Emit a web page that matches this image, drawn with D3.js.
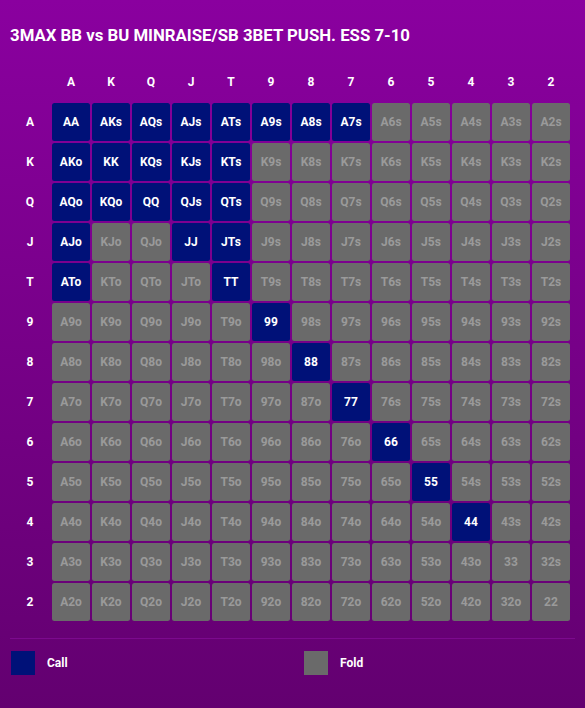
<!DOCTYPE html>
<html><head><meta charset="utf-8">
<script src="https://cdn.jsdelivr.net/npm/d3@7"></script>
<style>
html,body{margin:0;padding:0;}
body{width:585px;height:708px;overflow:hidden;font-family:Roboto,"Noto Sans",sans-serif;}
</style></head>
<body>
<svg id="c" width="585" height="708"></svg>
<script>
const title = "3MAX BB vs BU MINRAISE/SB 3BET PUSH. ESS 7-10";
const ranks = ["A","K","Q","J","T","9","8","7","6","5","4","3","2"];
const callHands = ["AA","AKs","AQs","AJs","ATs","A9s","A8s","A7s",
  "AKo","KK","KQs","KJs","KTs",
  "AQo","KQo","QQ","QJs","QTs",
  "AJo","JJ","JTs",
  "ATo","TT",
  "99","88","77","66","55","44"];
const legendLabels = ["Call","Fold"];
const legendColors = ["#001178","#6a6a6a"];

const svg = d3.select("#c");
const defs = svg.append("defs");
const g = defs.append("linearGradient").attr("id","bg").attr("x1",0).attr("y1",0).attr("x2",0).attr("y2",1);
g.append("stop").attr("offset","0%").attr("stop-color","#8a009f");
g.append("stop").attr("offset","100%").attr("stop-color","#630070");
svg.append("rect").attr("width",585).attr("height",708).attr("fill","url(#bg)");

svg.append("text").attr("x",10).attr("y",41).text(title)
  .attr("fill","#fff").attr("font-weight","bold").attr("font-size","16.8px");

const x = d3.scaleBand().domain(ranks).range([51,571]).paddingInner(0.05).paddingOuter(0.025);
const y = d3.scaleBand().domain(ranks).range([102,622]).paddingInner(0.05).paddingOuter(0.025);

const cells = [];
ranks.forEach((r,i)=>ranks.forEach((c,j)=>{
  let h;
  if(i===j) h=r+c; else if(j>i) h=r+c+"s"; else h=c+r+"o";
  cells.push({row:r,col:c,hand:h,call:callHands.includes(h)});
}));

svg.append("g").selectAll("text").data(ranks).join("text")
  .attr("x",d=>x(d)+x.bandwidth()/2).attr("y",86).attr("text-anchor","middle")
  .attr("fill","#fff").attr("font-weight","bold").attr("font-size","12px").text(d=>d);
svg.append("g").selectAll("text").data(ranks).join("text")
  .attr("x",30).attr("y",d=>y(d)+y.bandwidth()/2+4).attr("text-anchor","middle")
  .attr("fill","#fff").attr("font-weight","bold").attr("font-size","12px").text(d=>d);

const cg = svg.append("g").selectAll("g").data(cells).join("g");
cg.append("rect").attr("x",d=>x(d.col)).attr("y",d=>y(d.row))
  .attr("width",x.bandwidth()).attr("height",y.bandwidth()).attr("rx",2.5)
  .attr("fill",d=>d.call?legendColors[0]:legendColors[1]);
cg.append("text").attr("x",d=>x(d.col)+x.bandwidth()/2).attr("y",d=>y(d.row)+y.bandwidth()/2+4)
  .attr("text-anchor","middle").attr("font-weight","bold").attr("font-size","12px")
  .attr("fill",d=>d.call?"#fff":"#9a9a9a").text(d=>d.hand);

svg.append("line").attr("x1",10).attr("x2",575).attr("y1",638.5).attr("y2",638.5)
  .attr("stroke","#7c0a8e").attr("stroke-width",1);

const lg = svg.append("g").selectAll("g").data(legendLabels).join("g")
  .attr("transform",(d,i)=>`translate(${[11,304][i]},651)`);
lg.append("rect").attr("width",24).attr("height",24).attr("fill",(d,i)=>legendColors[i]);
lg.append("text").attr("x",36).attr("y",16).attr("fill","#fff").attr("font-weight","bold")
  .attr("font-size","12px").text(d=>d);
</script>
</body></html>
